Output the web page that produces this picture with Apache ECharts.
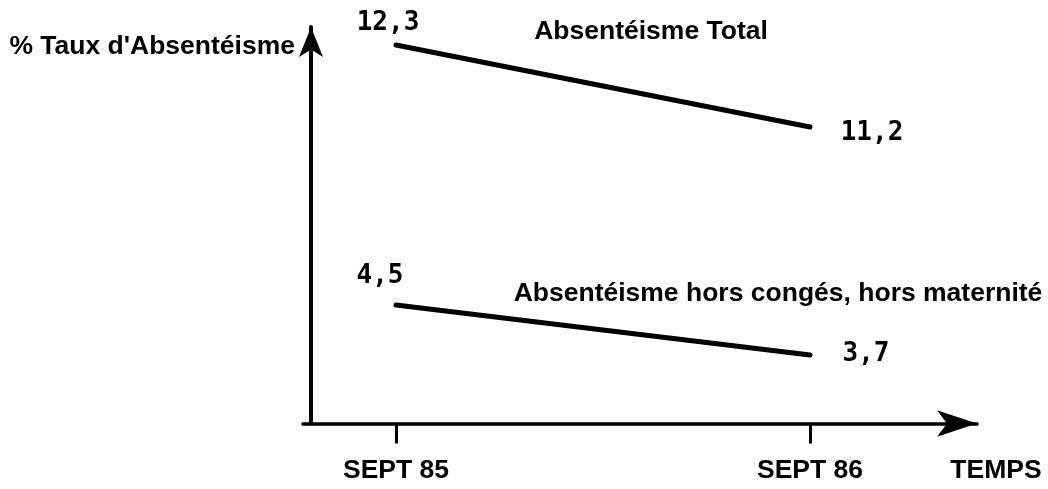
<!DOCTYPE html>
<html>
<head>
<meta charset="utf-8">
<script src="https://cdn.jsdelivr.net/npm/echarts@6/dist/echarts.min.js"></script>
<style>
html,body{margin:0;padding:0;background:#fff;}
#chart{width:1048px;height:489px;}
</style>
</head>
<body>
<div id="chart"></div>
<script>
// ---- data ----
const periods = ['SEPT 85', 'SEPT 86'];
const totalValues = [12.3, 11.2];
const horsValues = [4.5, 3.7];
const seriesNames = ['Absentéisme Total', 'Absentéisme hors congés, hors maternité'];
const yAxisName = "% Taux d'Absentéisme";
const xAxisName = 'TEMPS';

// ---- helpers ----
const fmt = v => String(v).replace('.', ',');
const toPoints = vals => vals.map((v, i) => [i, v]);
const TXT = 'Liberation Sans, Arial, Helvetica, sans-serif';
const NUM = 'DejaVu Sans Mono, monospace';
const FS = 26.5;

const chart = echarts.init(document.getElementById('chart'), null, {renderer: 'canvas'});

function lineSeries(name, vals, yIdx, offsets) {
  return {
    name: name,
    type: 'line',
    yAxisIndex: yIdx,
    data: toPoints(vals).map((p, i) => ({
      value: p,
      label: {offset: offsets[i]}
    })),
    symbol: 'circle',
    symbolSize: 1,
    showSymbol: true,
    itemStyle: {color: '#000'},
    lineStyle: {color: '#000', width: 5, cap: 'round'},
    label: {
      show: true,
      position: 'inside',
      align: 'center',
      verticalAlign: 'middle',
      formatter: p => fmt(p.value[1]),
      color: '#000',
      fontFamily: NUM,
      fontWeight: 'bold',
      fontSize: 26
    },
    animation: false,
    silent: true
  };
}

const option = {
  backgroundColor: '#fff',
  animation: false,
  grid: {left: 303, right: 71, top: 27, bottom: 65.5, containLabel: false},
  xAxis: {
    type: 'value',
    min: -0.2246,
    max: 1.4034,
    name: xAxisName,
    nameLocation: 'end',
    nameGap: 19,
    nameTextStyle: {
      color: '#000', fontFamily: TXT, fontWeight: 'bold', fontSize: FS,
      align: 'center', verticalAlign: 'top', padding: [34, 0, 0, 0]
    },
    axisLine: {
      show: true, onZero: false,
      lineStyle: {color: '#000', width: 3.5},
      symbol: ['none', 'arrow'],
      symbolSize: [20, 40]
    },
    axisTick: {
      show: true, inside: false, length: 20,
      customValues: [0, 1],
      lineStyle: {color: '#000', width: 3}
    },
    axisLabel: {
      show: true,
      customValues: [0, 1],
      margin: 34,
      verticalAlign: 'top',
      formatter: v => periods[Math.round(v)] || '',
      color: '#000', fontFamily: TXT, fontWeight: 'bold', fontSize: FS
    },
    splitLine: {show: false}
  },
  yAxis: [
    {
      type: 'value',
      min: 7.2225,
      max: 12.5415,
      offset: -8,
      name: yAxisName,
      nameLocation: 'end',
      nameGap: -20,
      nameTextStyle: {
        color: '#000', fontFamily: TXT, fontWeight: 'bold', fontSize: FS,
        align: 'right', verticalAlign: 'middle', padding: [0, 16, 0, 0]
      },
      axisLine: {
        show: true, onZero: false,
        lineStyle: {color: '#000', width: 4},
        symbol: ['none', 'arrow'],
        symbolSize: [18, 30]
      },
      axisTick: {show: false},
      axisLabel: {show: false},
      splitLine: {show: false}
    },
    {
      type: 'value',
      min: 2.604,
      max: 8.948,
      show: false,
      axisLine: {show: false},
      axisTick: {show: false},
      axisLabel: {show: false},
      splitLine: {show: false}
    }
  ],
  series: [
    lineSeries(seriesNames[0], totalValues, 0, [[-8, -22], [62, 6]]),
    lineSeries(seriesNames[1], horsValues, 1, [[-16, -29], [56, -1]])
  ],
  graphic: [
    {
      type: 'text', x: 651, y: 32, silent: true,
      style: {text: seriesNames[0], fill: '#000', font: 'bold ' + FS + 'px ' + TXT, align: 'center', verticalAlign: 'middle'}
    },
    {
      type: 'text', x: 778, y: 294, silent: true,
      style: {text: seriesNames[1], fill: '#000', font: 'bold ' + FS + 'px ' + TXT, align: 'center', verticalAlign: 'middle'}
    }
  ]
};
chart.setOption(option);
</script>
</body>
</html>
